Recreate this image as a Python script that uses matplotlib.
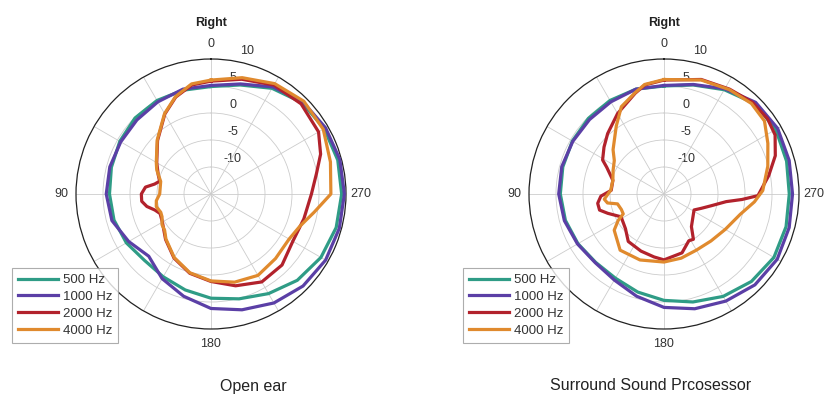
import numpy as np
import matplotlib.pyplot as plt
from matplotlib.transforms import offset_copy

plt.rcParams['font.family'] = ['Liberation Sans', 'DejaVu Sans']

# angle in degrees, counter-clockwise from the top (0 = front, 90 = left, 270 = right)
# levels in dB
angles_15 = [0, 15, 30, 45, 60, 75, 90, 105, 120, 135, 150, 165,
             180, 195, 210, 225, 240, 255, 270, 285, 300, 315, 330, 345]

# ---- Open ear ----
open_500 = [4.9, 4.9, 5.0, 4.9, 4.5, 4.1, 3.8, 3.6, 3.1, 2.4, 2.7, 3.4,
            4.3, 5.1, 6.3, 7.6, 8.5, 9.0, 9.2, 9.3, 9.2, 8.9, 7.6, 5.9]
open_1000 = [5.1, 5.1, 4.7, 4.4, 4.3, 4.4, 4.4, 4.0, 2.6, 1.3, 3.1, 4.6,
             6.2, 7.2, 8.3, 9.1, 9.5, 9.6, 9.7, 9.7, 9.5, 9.1, 7.9, 6.1]

open_2000_deg = [0, 10, 20, 30, 45, 60, 70, 76, 80, 84, 90, 96, 101, 106, 111, 120,
                 135, 150, 165, 180, 195, 210, 225, 240, 255, 270, 281, 290, 300,
                 315, 330, 345]
open_2000 = [5.9, 5.5, 4.1, 2.1, -1.0, -3.4, -4.6, -5.2, -4.4, -2.8, -2.1, -2.1, -2.9,
             -4.2, -4.9, -4.6, -3.1, -1.3, 0.2, 1.2, 2.6, 3.8, 3.6, 2.5, 2.8, 3.6,
             4.9, 6.6, 8.0, 8.6, 8.3, 7.0]

open_4000_deg = [0, 10, 20, 30, 45, 60, 66, 76, 90, 97, 103, 110, 115, 122, 128, 135,
                 150, 165, 180, 195, 210, 225, 240, 250, 260, 270, 285, 300, 315,
                 330, 345]
open_4000 = [6.1, 5.7, 4.2, 2.2, -0.9, -3.3, -4.0, -5.4, -5.5, -4.8, -4.6, -5.1, -5.0,
             -4.3, -4.1, -3.2, -1.4, 0.1, 1.1, 1.9, 2.4, 1.9, 1.7, 2.5, 4.4, 7.2,
             7.9, 9.0, 9.3, 8.6, 7.3]

# ---- Surround Sound Processor ----
surr_500 = [5.0, 5.1, 5.0, 4.8, 4.6, 4.4, 4.2, 3.9, 3.4, 2.9, 3.0, 3.8,
            4.7, 5.7, 6.9, 7.9, 8.5, 8.4, 8.2, 8.5, 8.9, 8.7, 7.3, 5.9]
surr_1000 = [5.1, 5.1, 4.7, 4.5, 4.5, 4.6, 4.5, 4.1, 3.5, 3.0, 3.4, 4.6,
             6.0, 7.0, 7.9, 8.8, 9.2, 9.0, 8.8, 9.0, 9.3, 9.0, 7.5, 6.0]

surr_2000_deg = [0, 10, 16, 30, 43, 52, 61, 65, 75, 86, 92, 98, 104, 109, 118, 132,
                 143, 158, 171, 180, 197, 208, 213, 220, 242, 249, 256, 263, 266,
                 269, 280, 289, 298, 306, 316, 328, 342]
surr_2000 = [6.1, 5.5, 4.4, 2.2, 0.3, -0.9, -2.0, -3.3, -5.2, -5.2, -3.3, -2.6, -2.7,
             -4.0, -6.0, -5.4, -4.0, -3.6, -3.2, -2.8, -3.6, -5.2, -5.0, -7.1, -8.7,
             -7.6, -6.0, -3.4, -0.5, 2.4, 4.7, 6.8, 8.3, 8.7, 8.6, 7.9, 7.3]

surr_4000_deg = [0, 10, 16, 26, 35, 49, 56, 65, 75, 86, 95, 99, 102, 110, 116, 120,
                 126, 142, 160, 180, 195, 210, 225, 240, 255, 265, 272, 285, 296,
                 306, 316, 328, 342]
surr_4000 = [6.2, 5.6, 4.5, 3.0, 0.4, -2.5, -3.9, -4.6, -5.2, -5.1, -3.9, -4.4, -6.2,
             -6.6, -6.6, -5.2, -3.6, -1.8, -2.0, -2.4, -2.7, -3.0, -2.7, -1.9, -0.4,
             1.8, 3.3, 4.9, 6.4, 8.0, 8.3, 7.8, 7.2]

freq_labels = ['500 Hz', '1000 Hz', '2000 Hz', '4000 Hz']
colors = ['#2f9c86', '#5b3fa6', '#b2222c', '#e08a2e']
captions = ['Open ear', 'Surround Sound Prcosessor']

panels = [
    [(angles_15, open_500), (angles_15, open_1000),
     (open_2000_deg, open_2000), (open_4000_deg, open_4000)],
    [(angles_15, surr_500), (angles_15, surr_1000),
     (surr_2000_deg, surr_2000), (surr_4000_deg, surr_4000)],
]

W, H = 827, 407
R = 135
centers = [211, 664]
cy = 194
caption_x = [253, 651]
legend_x = [12, 463]

fig = plt.figure(figsize=(W / 100, H / 100), dpi=100)

for i, curves in enumerate(panels):
    cx = centers[i]
    ax = fig.add_axes([(cx - R) / W, (H - cy - R) / H, 2 * R / W, 2 * R / H],
                      projection='polar')
    ax.set_theta_zero_location('N')
    ax.set_theta_direction(1)
    ax.set_ylim(-15, 10)
    ax.set_yticks([-10, -5, 0, 5])
    ax.set_yticklabels([])
    ax.set_thetagrids(range(0, 360, 30),
                      labels=['0', '', '', '90', '', '', '180', '', '', '270', '', ''],
                      fontsize=9, color='#333333')
    ax.tick_params(axis='x', pad=0)
    ax.grid(color='#cccccc', linewidth=0.6)
    ax.spines['polar'].set_color('#222222')
    ax.spines['polar'].set_linewidth(0.9)

    # radial labels just right of the front spoke
    for v in [-10, -5, 0, 5, 10]:
        dx = 36 if v == 10 else 22
        tr = offset_copy(ax.transData, fig=fig, x=dx, y=8, units='dots')
        ax.text(0, v, str(v), transform=tr, ha='center', va='center',
                fontsize=9, color='#333333', zorder=1)

    handles = []
    for (deg, db), col, lab in zip(curves, colors, freq_labels):
        th = np.radians(np.append(deg, deg[0] + 360))
        rr = np.append(db, db[0])
        ln, = ax.plot(th, rr, color=col, lw=2.3, label=lab,
                      solid_joinstyle='round', zorder=3)
        handles.append(ln)

    fig.text(cx / W, 1 - 23 / H, 'Right', ha='center', va='center',
             fontsize=9, fontweight='bold', color='#222222')

    leg = fig.legend(handles=handles, loc='upper left',
                     bbox_to_anchor=(legend_x[i] / W, 1 - 268 / H),
                     bbox_transform=fig.transFigure, fontsize=9.5,
                     frameon=True, fancybox=False, borderpad=0.45,
                     borderaxespad=0, handlelength=3.0, handletextpad=0.4,
                     labelspacing=0.35)
    leg.get_frame().set_edgecolor('#999999')
    leg.get_frame().set_linewidth(0.8)
    for t in leg.get_texts():
        t.set_color('#333333')

    fig.text(caption_x[i] / W, 1 - 386 / H, captions[i], ha='center', va='center',
             fontsize=11.5, color='#222222')

fig.savefig('out.png', dpi=100)
